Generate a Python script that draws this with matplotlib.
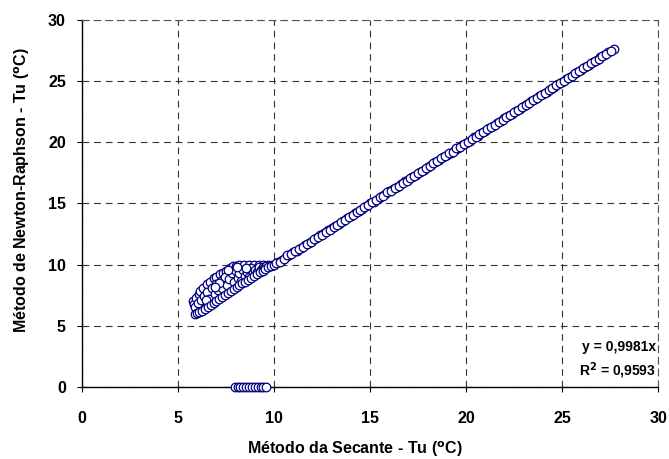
import matplotlib.pyplot as plt

plt.rcParams['font.family'] = ['Liberation Sans', 'DejaVu Sans']

# linha principal (x, y)
line_x = [10.0, 10.2, 10.4, 10.6, 10.8, 11.0, 11.2, 11.4, 11.6, 11.8,
          12.0, 12.2, 12.4, 12.6, 12.8, 13.0, 13.2, 13.4, 13.6, 13.8,
          14.0, 14.2, 14.4, 14.6, 14.8, 15.0, 15.2, 15.4, 15.6, 15.8,
          16.0, 16.2, 16.4, 16.6, 16.8, 17.0, 17.2, 17.4, 17.6, 17.8,
          18.0, 18.2, 18.4, 18.6, 18.8, 19.0, 19.2, 19.4, 19.6, 19.8,
          20.0, 20.2, 20.4, 20.6, 20.8, 21.0, 21.2, 21.4, 21.6, 21.8,
          22.0, 22.2, 22.4, 22.6, 22.8, 23.0, 23.2, 23.4, 23.6, 23.8,
          24.0, 24.2, 24.4, 24.6, 24.8, 25.0, 25.2, 25.4, 25.6, 25.8,
          26.0, 26.2, 26.4, 26.6, 26.8, 27.0, 27.2, 27.4, 27.7]
line_y = [10.0, 10.2, 10.35, 10.6, 10.8, 11.0, 11.15, 11.4, 11.6, 11.8,
          11.95, 12.2, 12.4, 12.55, 12.8, 13.0, 13.2, 13.35, 13.6, 13.8,
          13.95, 14.2, 14.4, 14.55, 14.8, 15.0, 15.15, 15.4, 15.6, 15.75,
          16.0, 16.2, 16.35, 16.6, 16.8, 16.95, 17.2, 17.35, 17.6, 17.75,
          18.0, 18.15, 18.4, 18.55, 18.8, 18.95, 19.15, 19.4, 19.55, 19.8,
          19.95, 20.15, 20.4, 20.55, 20.75, 20.95, 21.15, 21.35, 21.55, 21.75,
          21.95, 22.15, 22.35, 22.55, 22.75, 22.95, 23.15, 23.35, 23.55, 23.75,
          23.95, 24.15, 24.35, 24.55, 24.75, 24.95, 25.15, 25.35, 25.55, 25.75,
          25.95, 26.15, 26.35, 26.55, 26.75, 26.95, 27.15, 27.35, 27.65]

# pontos intermediarios da linha
line2_x = [10.1, 10.3, 10.5, 10.7, 10.9, 11.1, 11.3, 11.5, 11.7, 11.9,
           12.1, 12.3, 12.5, 12.7, 12.9, 13.1, 13.3, 13.5, 13.7, 13.9,
           14.1, 14.3, 14.5, 14.7, 14.9, 15.1, 15.3, 15.5, 15.7, 15.9,
           16.1, 16.3, 16.5, 16.7, 16.9, 17.1, 17.3, 17.5, 17.7, 17.9,
           18.1, 18.3, 18.5, 18.7, 18.9, 19.1, 19.3, 19.5, 19.7, 19.9,
           20.1, 20.3, 20.5, 20.7, 20.9, 21.1, 21.3, 21.5, 21.7, 21.9,
           22.1, 22.3, 22.5, 22.7, 22.9, 23.1, 23.3, 23.5, 23.7, 23.9,
           24.1, 24.3, 24.5, 24.7, 24.9, 25.1, 25.3, 25.5, 25.7, 25.9,
           26.1, 26.3, 26.5, 26.7, 26.9, 27.1, 27.3, 27.55]
line2_y = [10.15, 10.25, 10.5, 10.75, 10.85, 11.1, 11.3, 11.45, 11.7, 11.85,
           12.1, 12.3, 12.45, 12.7, 12.85, 13.1, 13.25, 13.5, 13.65, 13.9,
           14.05, 14.3, 14.45, 14.7, 14.85, 15.1, 15.25, 15.5, 15.65, 15.9,
           16.05, 16.3, 16.45, 16.7, 16.85, 17.1, 17.25, 17.5, 17.65, 17.9,
           18.05, 18.3, 18.45, 18.7, 18.85, 19.1, 19.25, 19.5, 19.65, 19.85,
           20.05, 20.3, 20.45, 20.65, 20.85, 21.05, 21.25, 21.45, 21.65, 21.85,
           22.05, 22.25, 22.45, 22.65, 22.85, 23.05, 23.25, 23.45, 23.65, 23.85,
           24.05, 24.25, 24.45, 24.65, 24.85, 25.05, 25.25, 25.45, 25.65, 25.85,
           26.05, 26.25, 26.45, 26.65, 26.85, 27.05, 27.25, 27.5]

# nuvem entre 6 e 10 graus
cluster_x = [5.80, 5.85, 5.95, 6.10, 6.15, 6.30, 6.50, 6.65, 6.85, 7.00,
             7.20, 7.35, 7.50, 7.70, 7.85, 8.00, 8.20, 8.45, 8.70, 8.95,
             9.20, 9.45, 9.70, 9.90,
             5.90, 6.05, 6.20, 6.35, 6.50, 6.60, 6.75, 6.90, 7.00, 7.10,
             7.25, 7.30, 7.45, 7.55, 7.65, 7.80, 7.90, 8.00, 8.10, 8.20,
             8.30, 8.40, 8.50, 8.60, 8.70, 8.80, 8.90, 9.00, 9.10, 9.20,
             9.30, 9.40, 9.50, 9.60, 7.60, 7.15, 6.45, 6.95, 8.05, 8.55,
             5.90, 6.00, 6.10, 6.25, 6.40, 6.55, 6.70, 6.85, 7.00, 7.15,
             7.30, 7.45, 7.60, 7.75, 7.90, 8.05, 8.20, 8.35, 8.50, 8.65,
             8.80, 8.95, 9.10, 9.25, 9.40, 9.55, 9.70, 9.85]
cluster_y = [7.05, 6.80, 7.30, 7.60, 7.85, 8.10, 8.45, 8.60, 8.90, 9.00,
             9.20, 9.35, 9.50, 9.70, 9.85, 9.90, 9.95, 9.95, 9.95, 9.95,
             9.95, 9.95, 9.95, 10.0,
             6.50, 6.90, 7.10, 7.40, 7.80, 7.20, 8.10, 7.60, 8.40, 7.90,
             8.70, 8.10, 9.00, 8.30, 8.80, 9.30, 8.60, 9.50, 8.90, 9.30,
             8.70, 9.60, 9.10, 9.40, 9.00, 9.70, 9.30, 9.60, 9.40, 9.80,
             9.60, 9.80, 9.70, 9.85, 9.60, 8.50, 7.10, 8.20, 9.80, 9.75,
             5.95, 6.05, 6.12, 6.25, 6.40, 6.55, 6.72, 6.88, 7.05, 7.20,
             7.35, 7.52, 7.68, 7.85, 8.00, 8.15, 8.30, 8.48, 8.62, 8.78,
             8.92, 9.08, 9.22, 9.38, 9.52, 9.66, 9.80, 9.92]

# pontos com Newton-Raphson = 0
zero_x = [7.95, 8.1, 8.25, 8.4, 8.55, 8.7, 8.85, 9.0, 9.15, 9.3, 9.45, 9.6]
zero_y = [0, 0, 0, 0, 0, 0, 0, 0, 0, 0, 0, 0]

ticks = [0, 5, 10, 15, 20, 25, 30]

fig = plt.figure(figsize=(6.69, 4.59), dpi=100)
ax = fig.add_axes([0.1226, 0.1569, 0.8610, 0.7995])

for xs, ys in [(cluster_x, cluster_y), (line_x, line_y),
               (line2_x, line2_y), (zero_x, zero_y)]:
    ax.scatter(xs, ys, s=38, facecolor='white', edgecolor='#000080',
               linewidth=0.9, zorder=3, clip_on=False)

ax.set_xlim(0, 30)
ax.set_ylim(0, 30)
ax.set_xticks(ticks)
ax.set_yticks(ticks)
ax.grid(True, color='#333333', linestyle=(0, (6, 4.5)), linewidth=0.8)
ax.set_axisbelow(True)
for s in ['top', 'right']:
    ax.spines[s].set_color('#555555')
    ax.spines[s].set_linestyle((0, (6, 4.5)))
    ax.spines[s].set_linewidth(0.8)
ax.spines['left'].set_linewidth(1.0)
ax.spines['bottom'].set_linewidth(1.0)
ax.tick_params(axis='both', direction='out', length=3.6, width=0.8,
               labelsize=11.5)
ax.tick_params(axis='x', pad=14)
ax.tick_params(axis='y', pad=8)
for lab in ax.get_xticklabels() + ax.get_yticklabels():
    lab.set_fontweight('bold')

ax.set_xlabel('Método da Secante - Tu ($^{\\mathbf{o}}$C)', fontsize=11.5,
              fontweight='bold', va='center')
ax.xaxis.set_label_coords(0.474, -0.17)
ax.set_ylabel('Método de Newton-Raphson - Tu ($^{\\mathbf{o}}$C)', fontsize=11.5,
              fontweight='bold', va='center')
ax.yaxis.set_label_coords(-0.104, 0.537)

ax.text(0.997, 0.108, 'y = 0,9981x', transform=ax.transAxes, ha='right',
        va='center', fontsize=10, fontweight='bold')
ax.text(0.997, 0.045, 'R$^{\\mathbf{2}}$ = 0,9593', transform=ax.transAxes,
        ha='right', va='center', fontsize=10, fontweight='bold')

fig.savefig('out.png', dpi=100)
